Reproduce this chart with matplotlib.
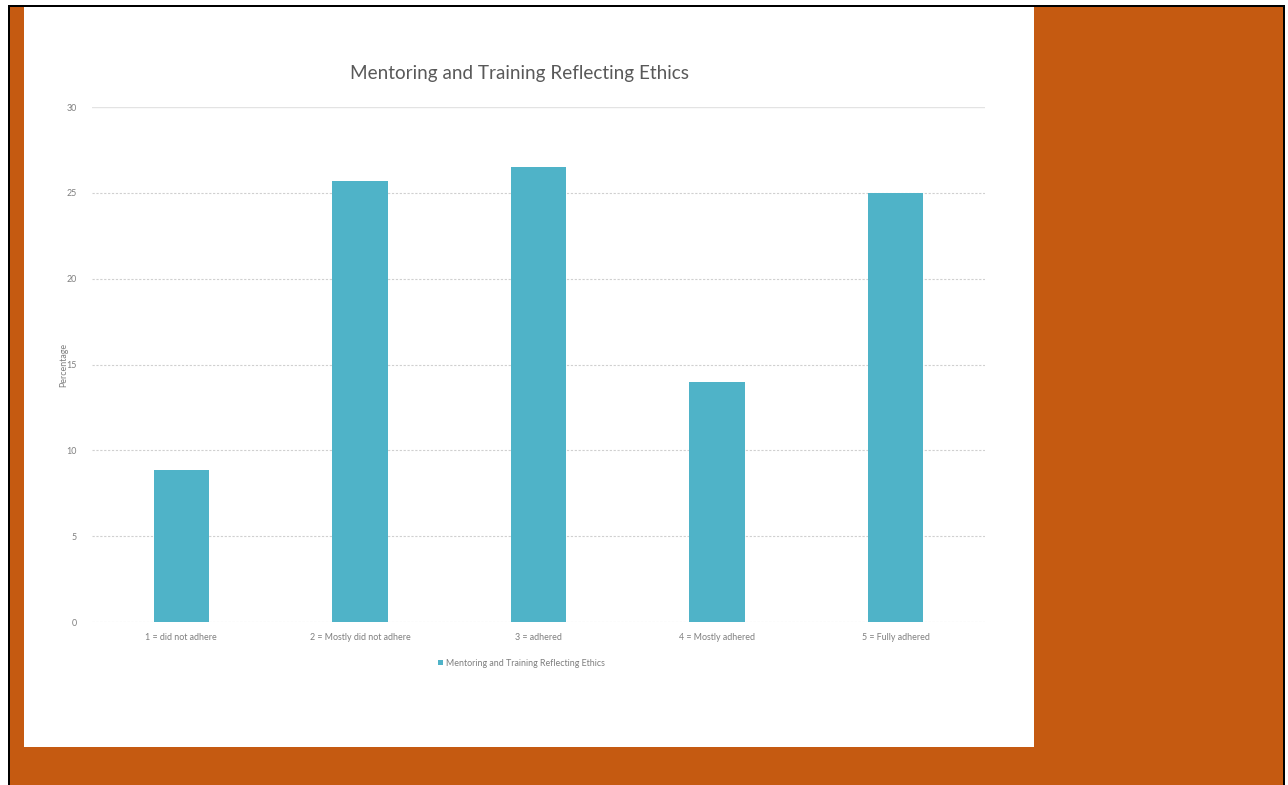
import matplotlib.pyplot as plt
from matplotlib.patches import Rectangle

categories = ["1 = did not adhere", "2 = Mostly did not adhere", "3 = adhered",
              "4 = Mostly adhered", "5 = Fully adhered"]
percentages = [8.85, 25.7, 26.5, 14.0, 25.0]
y_ticks = [0, 5, 10, 15, 20, 25, 30]
series_name = "Mentoring and Training Reflecting Ethics"

W, H = 1288, 785
plt.rcParams['font.family'] = ['Lato', 'DejaVu Sans']

fig = plt.figure(figsize=(W / 100, H / 100), dpi=100)
fig.patch.set_facecolor("white")


def px_rect(x0, y0, x1, y1, color, z):
    # pixel box (top-left origin) -> figure fraction
    r = Rectangle((x0 / W, 1 - y1 / H), (x1 - x0) / W, (y1 - y0) / H,
                  transform=fig.transFigure, facecolor=color, edgecolor="none", zorder=z)
    fig.patches.append(r)


px_rect(8, 5, 1285, 785, "black", 0)
px_rect(10, 7, 1283, 785, "#C55A11", 1)
px_rect(24, 7, 1034, 747, "white", 2)

ax = fig.add_axes([92 / W, 1 - 622 / H, (985 - 92) / W, (622 - 107) / H])
ax.set_facecolor("none")
ax.set_zorder(3)

x = range(len(categories))
ax.bar(x, percentages, width=0.31, color="#4FB3C8", label=series_name, zorder=3)
ax.set_xlim(-0.5, len(categories) - 0.5)
ax.set_ylim(0, 30)
ax.set_yticks(y_ticks)
for t in y_ticks[:-1]:
    ax.axhline(t, color="#D0D0D0", lw=0.8, ls=(0, (2, 1.5)), zorder=1)
ax.axhline(30, color="#E3E3E3", lw=1.0, zorder=1)

ax.set_xticks(list(x))
ax.set_xticklabels(categories)
for s in ax.spines.values():
    s.set_visible(False)
ax.tick_params(length=0, labelsize=6.4, colors="#7F7F7F", pad=8)
ax.tick_params(axis="y", pad=11)
ax.set_ylabel("Percentage", fontsize=6.4, color="#7F7F7F")
ax.yaxis.set_label_coords(-24 / (985 - 92), 0.5)

fig.text(520 / W, 1 - 73 / H, "Mentoring and Training Reflecting Ethics",
         ha="center", va="center", fontsize=13.6, color="#595959", zorder=4)

leg = fig.legend(loc="center", bbox_to_anchor=(521 / W, 1 - 663 / H), frameon=False,
                 fontsize=6.4, handlelength=0.6, handleheight=0.6, handletextpad=0.3)
for t in leg.get_texts():
    t.set_color("#7F7F7F")
leg.set_zorder(5)

fig.savefig("out.png", dpi=100)
